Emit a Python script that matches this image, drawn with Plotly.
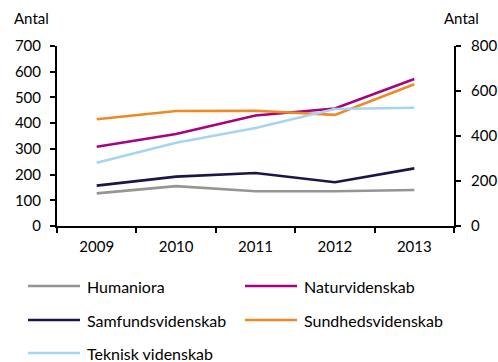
import plotly.graph_objects as go

years = ["2009", "2010", "2011", "2012", "2013"]

humaniora = [127, 155, 135, 135, 140]
naturvidenskab = [308, 358, 430, 457, 572]
samfundsvidenskab = [157, 192, 206, 170, 224]
sundhedsvidenskab = [415, 447, 448, 432, 551]
teknisk_videnskab = [246, 324, 381, 455, 460]

series = [
    ("Humaniora", humaniora, "#959595"),
    ("Naturvidenskab", naturvidenskab, "#A6037F"),
    ("Samfundsvidenskab", samfundsvidenskab, "#1B1649"),
    ("Sundhedsvidenskab", sundhedsvidenskab, "#EE8A25"),
    ("Teknisk videnskab", teknisk_videnskab, "#A7D5F1"),
]

left_ticks = [0, 100, 200, 300, 400, 500, 600, 700]
right_ticks = [0, 200, 400, 600, 800]

FONT = "Lato, 'Open Sans', sans-serif"
FS = 15

W, H = 498, 362
ML, MR, MT, MB = 57, 44, 46, 136
PW, PH = W - ML - MR, H - MT - MB


def px_x(px):
    return (px - ML) / PW


def px_y(py):
    return (H - MB - py) / PH


fig = go.Figure()
for name, vals, color in series:
    fig.add_trace(go.Scatter(
        x=years, y=vals, name=name, mode="lines",
        line=dict(color=color, width=2.6),
    ))

# secondary scale shown on the right
fig.add_trace(go.Scatter(x=years, y=[None] * len(years), yaxis="y2",
                         showlegend=False, hoverinfo="skip"))

axis_style = dict(
    showline=True, linecolor="black", linewidth=2,
    ticks="outside", ticklen=5, tickwidth=2, tickcolor="black",
    showgrid=False, zeroline=False, automargin=False,
    tickfont=dict(size=FS, family=FONT, color="black"),
)

fig.update_layout(
    width=W, height=H,
    margin=dict(l=ML, r=MR, t=MT, b=MB, autoexpand=False),
    paper_bgcolor="white", plot_bgcolor="white",
    font=dict(family=FONT, size=FS, color="#000000"),
    showlegend=False,
    xaxis=dict(type="category", tickson="boundaries", range=[-0.5, 4.5],
               ticklabelstandoff=6, **axis_style),
    yaxis=dict(range=[0, 700], tickvals=left_ticks, ticklabelstandoff=6,
               **axis_style),
    yaxis2=dict(range=[0, 800], tickvals=right_ticks, overlaying="y",
                side="right", ticklabelstandoff=7, **axis_style),
)

# axis unit labels
fig.add_annotation(text="Antal", xref="paper", yref="paper",
                   x=px_x(12), y=px_y(18), xanchor="left", yanchor="middle",
                   showarrow=False, font=dict(size=FS))
fig.add_annotation(text="Antal", xref="paper", yref="paper",
                   x=px_x(442), y=px_y(18), xanchor="left", yanchor="middle",
                   showarrow=False, font=dict(size=FS))

# legend in two columns below the plot
legend_pos = [(28, 286), (245, 286), (28, 320), (245, 320), (28, 353)]
for (name, _, color), (lx, ly) in zip(series, legend_pos):
    fig.add_shape(type="line", xref="paper", yref="paper",
                  x0=px_x(lx), x1=px_x(lx + 52), y0=px_y(ly), y1=px_y(ly),
                  line=dict(color=color, width=2.6))
    fig.add_annotation(text=name, xref="paper", yref="paper",
                       x=px_x(lx + 57), y=px_y(ly), xanchor="left",
                       yanchor="middle", showarrow=False,
                       font=dict(size=16))

fig.write_html("out.html")
